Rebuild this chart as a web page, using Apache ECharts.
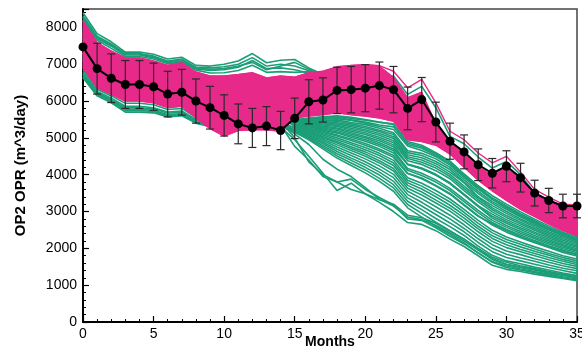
<!DOCTYPE html>
<html>
<head>
<meta charset="utf-8">
<script src="https://cdn.jsdelivr.net/npm/echarts@6/dist/echarts.min.js"></script>
<style>
  html, body { margin: 0; padding: 0; background: #ffffff; }
  #chart { width: 582px; height: 348px; }
</style>
</head>
<body>
<div id="chart"></div>
<script>
// Time axis (months)
const months = [0,1,2,3,4,5,6,7,8,9,10,11,12,13,14,15,16,17,18,19,20,21,22,23,24,25,26,27,28,29,30,31,32,33,34,35];

// Observed oil production rate with measurement error
const observed = [7470,6880,6620,6450,6450,6390,6190,6240,6000,5820,5610,5380,5270,5320,5200,5530,5980,6030,6290,6310,6350,6420,6310,5800,6040,5430,4910,4620,4270,4040,4230,3920,3500,3300,3150,3150];
const observedError = [null,690,660,650,650,640,620,620,600,580,560,540,530,530,520,550,600,600,630,630,640,640,630,580,600,540,490,460,430,400,420,390,350,330,320,320];

// Posterior (history-matched) ensemble: outermost member and the dense envelope
const postTop     = [8180,7590,7360,7170,7170,7090,6970,7040,6790,6680,6680,6720,6770,6630,6680,6650,6770,6810,6930,6970,6990,6960,6810,6360,6590,5950,5180,4950,4590,4320,4500,4070,3600,3390,3200,3180];
const postBandTop = [8180,7590,7360,7170,7170,7090,6970,7040,6790,6680,6680,6720,6770,6630,6680,6650,6770,6810,6930,6970,6990,6960,6650,6100,6250,5400,4880,4580,4230,4000,4180,3880,3470,3270,3120,3120];
const postBandLow = [6900,6360,6180,6000,6000,5950,5820,5860,5540,5250,5050,5200,5220,5220,5180,5540,5590,5630,5680,5630,5590,5540,5450,4950,4900,4800,4560,4200,3850,3560,3300,3060,2860,2660,2480,2340];

// Prior ensemble members
const prior01 = [8400,7830,7610,7330,7330,7270,7140,7190,6970,6950,7000,7090,7290,7040,7110,7130,6900,6720,6750,6780,6800,6720,6680,6180,6400,5820,5040,4840,4480,4180,4360,4000,3500,3320,3140,3110];
const prior02 = [8320,7760,7550,7290,7290,7220,7090,7140,6920,6900,6930,7000,7180,6950,7000,6950,6820,6700,6500,6450,6400,6350,6250,5750,5900,5200,4700,4400,4050,3800,3950,3650,3250,3070,2930,2900];
const prior03 = [8250,7700,7490,7250,7250,7180,7040,7090,6870,6830,6850,6920,7100,6880,6900,6850,6760,6690,6300,6250,6200,6150,6050,5550,5700,5000,4650,4350,4000,3700,3800,3500,3150,2950,2800,2750];
const prior04 = [8200,7650,7430,7210,7210,7140,7010,7060,6840,6760,6770,6830,6970,6780,6800,6780,6800,6760,6100,6050,6000,5950,5850,5350,5450,4900,4600,4300,3950,3650,3700,3400,3050,2850,2700,2650];
const prior05 = [8280,7720,7520,7280,7280,7200,7060,7120,6900,6860,6880,6950,7050,6850,6950,7050,6860,6700,6400,6350,6300,6250,6150,5650,5800,5100,4680,4380,4020,3750,3880,3580,3200,3000,2870,2830];
const prior06 = [7840,7280,7070,6890,6890,6820,6700,6750,6470,6270,6170,6260,6300,6230,6230,5480,5530,5560,5580,5530,5480,5420,5380,4900,4800,4600,4370,4020,3700,3430,3200,2990,2790,2610,2440,2310];
const prior07 = [7160,6600,6390,6210,6210,6140,6020,6070,5790,5590,5490,5580,5620,5550,5550,5470,5510,5530,5550,5490,5430,5350,5300,4820,4720,4530,4300,3960,3650,3370,3150,2940,2750,2570,2410,2270];
const prior08 = [7390,6830,6620,6440,6440,6370,6250,6300,6020,5820,5720,5810,5850,5780,5780,5470,5500,5510,5520,5470,5400,5310,5230,4780,4660,4490,4260,3920,3610,3330,3110,2900,2720,2540,2380,2250];
const prior09 = [7940,7380,7170,6990,6990,6920,6800,6850,6570,6370,6270,6360,6400,6330,6330,5450,5480,5480,5490,5420,5360,5260,5140,4650,4580,4430,4200,3860,3550,3270,3060,2850,2670,2500,2340,2210];
const prior10 = [7690,7130,6920,6740,6740,6670,6550,6600,6320,6120,6020,6110,6150,6080,6080,5440,5460,5460,5450,5380,5310,5210,5090,4600,4520,4360,4140,3800,3490,3220,3000,2800,2630,2450,2300,2170];
const prior11 = [7240,6680,6470,6290,6290,6220,6100,6150,5870,5670,5570,5660,5700,5630,5630,5420,5430,5400,5380,5300,5220,5120,4980,4490,4400,4240,4010,3690,3380,3100,2890,2710,2530,2370,2220,2100];
const prior12 = [7440,6880,6670,6490,6490,6420,6300,6350,6070,5870,5770,5860,5900,5830,5830,5410,5410,5380,5340,5260,5180,5070,4920,4440,4340,4180,3950,3630,3320,3050,2840,2660,2490,2330,2180,2060];
const prior13 = [7990,7430,7220,7040,7040,6970,6850,6900,6620,6420,6320,6410,6450,6380,6380,5400,5390,5350,5310,5220,5130,5020,4870,4380,4280,4110,3890,3570,3260,2990,2780,2610,2440,2290,2140,2030];
const prior14 = [7540,6980,6770,6590,6590,6520,6400,6450,6170,5970,5870,5960,6000,5930,5930,5380,5350,5290,5240,5140,5040,4920,4760,4280,4160,3990,3760,3450,3140,2870,2680,2510,2350,2200,2070,1950];
const prior15 = [7090,6530,6320,6140,6140,6070,5950,6000,5720,5520,5420,5510,5550,5480,5480,5360,5320,5240,5160,5060,4950,4820,4650,4170,4040,3860,3630,3330,3030,2760,2570,2410,2260,2120,1990,1880];
const prior16 = [7740,7180,6970,6790,6790,6720,6600,6650,6370,6170,6070,6160,6200,6130,6130,5340,5270,5180,5080,4970,4850,4700,4520,4040,3910,3710,3490,3190,2890,2630,2440,2290,2150,2020,1890,1790];
const prior17 = [7290,6730,6520,6340,6340,6270,6150,6200,5920,5720,5620,5710,5750,5680,5680,5310,5230,5110,5000,4870,4740,4580,4390,3920,3770,3570,3340,3060,2760,2490,2310,2170,2040,1920,1800,1710];
const prior18 = [7590,7030,6820,6640,6640,6570,6450,6500,6220,6020,5920,6010,6050,5980,5980,5280,5180,5040,4900,4760,4620,4450,4250,3780,3610,3400,3170,2900,2600,2340,2170,2040,1920,1810,1700,1610];
const prior19 = [6850,6320,6140,5940,5940,5900,5770,5800,5560,5450,5400,5450,5500,5480,5450,5260,5130,4970,4810,4660,4500,4320,4100,3630,3450,3230,3010,2740,2450,2190,2020,1910,1800,1690,1590,1510];
const prior20 = [6780,6260,6080,5860,5860,5820,5700,5730,5500,5400,5350,5400,5450,5430,5400,5220,5070,4880,4690,4520,4350,4150,3920,3460,3250,3020,2800,2540,2260,2000,1840,1740,1650,1550,1460,1390];
const prior21 = [6700,6200,6010,5780,5780,5750,5630,5660,5440,5350,5300,5350,5400,5380,5350,5190,5010,4790,4570,4390,4200,3990,3730,3280,3050,2810,2590,2350,2060,1810,1660,1580,1490,1410,1330,1260];
const prior22 = [6630,6140,5950,5700,5700,5680,5570,5600,5400,5300,5250,5300,5350,5330,5300,5150,4950,4700,4450,4250,4050,3820,3550,3100,2850,2600,2380,2150,1870,1620,1480,1410,1340,1270,1200,1140];
const prior23 = [7300,6750,6520,6300,6300,6250,6100,6150,5880,5700,5600,5650,5700,5600,5300,4950,4500,4040,3570,3770,3480,3250,3000,2700,2650,2480,2250,2050,1800,1540,1430,1370,1300,1240,1180,1120];
const prior24 = [7600,7050,6800,6600,6600,6520,6380,6420,6150,6000,5900,5950,6000,5900,5350,4770,4400,3950,3800,3880,3600,3380,3180,2800,2760,2560,2330,2120,1880,1640,1520,1440,1370,1300,1230,1170];
const prior25 = [7400,6850,6620,6420,6420,6360,6230,6280,6000,5850,5750,5800,5850,5780,5400,5100,4820,4420,4150,3950,3650,3330,3150,2850,2780,2620,2420,2200,1950,1700,1560,1480,1410,1340,1270,1210];
const prior26 = [7700,7150,6900,6700,6700,6630,6480,6530,6250,6100,6000,6050,6100,6000,5450,5000,4350,4000,3800,3600,3480,3320,3200,2900,2830,2680,2460,2250,2000,1760,1620,1530,1450,1370,1300,1230];
const prior27 = [7640,7080,6870,6690,6690,6620,6500,6550,6270,6070,5970,6060,6100,6030,6030,5490,5540,5570,5600,5560,5500,5430,5360,4860,4760,4570,4350,4000,3680,3330,3110,2890,2700,2510,2350,2220];
const prior28 = [7320,6760,6550,6370,6370,6300,6180,6230,5950,5750,5650,5740,5780,5710,5710,5430,5440,5430,5410,5340,5270,5170,5030,4540,4460,4300,4070,3780,3400,3160,2950,2760,2580,2410,2260,2140];
const prior29 = [7220,6660,6450,6270,6270,6200,6080,6130,5850,5650,5550,5640,5680,5610,5610,5390,5370,5320,5270,5180,5090,4970,4810,4280,4160,3990,3760,3450,3140,2820,2620,2460,2300,2160,2030,1920];
const prior30 = [7920,7360,7150,6970,6970,6900,6780,6830,6550,6350,6250,6340,6380,6310,6310,5370,5330,5270,5200,5100,5000,4870,4700,4290,4180,4010,3780,3470,3160,2930,2730,2560,2400,2240,2100,1990];
const prior31 = [7860,7300,7090,6910,6910,6840,6720,6770,6490,6290,6190,6280,6320,6250,6250,5350,5300,5210,5130,5020,4910,4770,4590,4120,3980,3800,3570,3270,2970,2700,2510,2360,2210,2070,1950,1840];
const prior32 = [7140,6580,6370,6190,6190,6120,6000,6050,5770,5570,5470,5560,5600,5530,5530,5330,5260,5150,5050,4930,4800,4650,4470,4030,3890,3690,3470,3170,2870,2670,2480,2320,2180,2050,1920,1820];
const prior33 = [7790,7230,7020,6840,6840,6770,6650,6700,6420,6220,6120,6210,6250,6180,6180,5300,5210,5080,4950,4820,4680,4520,4320,3850,3690,3480,3260,2980,2680,2420,2240,2110,1980,1860,1750,1660];
const prior34 = [7420,6860,6650,6470,6470,6400,6280,6330,6050,5850,5750,5840,5880,5810,5810,5270,5160,5010,4860,4710,4560,4380,4170,3710,3530,3310,3090,2820,2530,2270,2100,1970,1860,1750,1650,1560];
const prior35 = [7570,7010,6800,6620,6620,6550,6430,6480,6200,6000,5900,5990,6030,5960,5960,5240,5100,4930,4750,4590,4430,4240,4010,3550,3350,3130,2900,2640,2350,2100,1930,1830,1720,1620,1530,1450];
const prior36 = [6740,6230,6040,5820,5820,5790,5670,5700,5470,5380,5320,5380,5420,5400,5380,5200,5040,4840,4630,4450,4280,4070,3820,3370,3150,2920,2690,2450,2160,1910,1750,1660,1570,1480,1400,1320];
const prior37 = [6660,6170,5980,5740,5740,5720,5600,5630,5420,5320,5270,5320,5370,5350,5320,5170,4980,4750,4510,4320,4130,3900,3640,3190,2950,2710,2480,2250,1970,1720,1570,1490,1420,1340,1270,1200];

const priorRuns = [prior01,prior02,prior03,prior04,prior05,prior06,prior07,prior08,prior09,prior10,
                   prior11,prior12,prior13,prior14,prior15,prior16,prior17,prior18,prior19,prior20,
                   prior21,prior22,prior23,prior24,prior25,prior26,prior27,prior28,prior29,prior30,
                   prior31,prior32,prior33,prior34,prior35,prior36,prior37];

// Axis tick values
const xTicks = [0,5,10,15,20,25,30,35];
const yTicks = [0,1000,2000,3000,4000,5000,6000,7000,8000];

const GREEN = '#1b9e77';
const MAGENTA = '#e7298a';
const FONT = '"Liberation Sans", Arial, Helvetica, sans-serif';

const toPairs = vals => vals.map((v, i) => [months[i], v]);

const series = [];

// Prior ensemble lines
priorRuns.forEach((run, k) => {
  series.push({
    name: 'prior' + k,
    type: 'line',
    data: toPairs(run),
    symbol: 'none',
    showSymbol: false,
    lineStyle: { color: GREEN, width: 1.6 },
    z: 1,
    silent: true,
    animation: false
  });
});

// Posterior ensemble: filled envelope
series.push({
  type: 'custom',
  data: [[0, 0]],
  z: 2,
  silent: true,
  animation: false,
  renderItem: (params, api) => {
    const pts = [];
    for (let i = 0; i < months.length; i++) pts.push(api.coord([months[i], postBandTop[i]]));
    for (let i = months.length - 1; i >= 0; i--) pts.push(api.coord([months[i], postBandLow[i]]));
    return { type: 'polygon', shape: { points: pts }, style: { fill: MAGENTA, stroke: MAGENTA, lineWidth: 1 } };
  }
});

// Posterior ensemble: outer members
[postTop, postBandLow].forEach(run => {
  series.push({
    type: 'line',
    data: toPairs(run),
    symbol: 'none',
    showSymbol: false,
    lineStyle: { color: MAGENTA, width: 1.4 },
    z: 3,
    silent: true,
    animation: false
  });
});

// Error bars on observed data
const errData = [];
observed.forEach((v, i) => {
  if (observedError[i] != null) errData.push([months[i], v - observedError[i], v + observedError[i]]);
});
series.push({
  type: 'custom',
  data: errData,
  encode: { x: 0, y: [1, 2] },
  z: 8,
  silent: true,
  animation: false,
  renderItem: (params, api) => {
    const x = api.value(0);
    const lo = api.coord([x, api.value(1)]);
    const hi = api.coord([x, api.value(2)]);
    const cap = 4;
    const style = { stroke: '#2a2a2a', lineWidth: 1.2 };
    return {
      type: 'group',
      children: [
        { type: 'line', shape: { x1: lo[0], y1: lo[1], x2: hi[0], y2: hi[1] }, style },
        { type: 'line', shape: { x1: hi[0] - cap, y1: hi[1], x2: hi[0] + cap, y2: hi[1] }, style },
        { type: 'line', shape: { x1: lo[0] - cap, y1: lo[1], x2: lo[0] + cap, y2: lo[1] }, style }
      ]
    };
  }
});

// Observed line
series.push({
  type: 'line',
  data: toPairs(observed),
  symbol: 'circle',
  symbolSize: 9,
  showSymbol: true,
  lineStyle: { color: '#000', width: 2 },
  itemStyle: { color: '#000' },
  z: 10,
  silent: true,
  animation: false
});

const option = {
  animation: false,
  backgroundColor: '#ffffff',
  grid: {
    left: 83, right: 5, top: 9, bottom: 26,
    containLabel: false,
    outerBoundsMode: 'none',
    show: true,
    borderColor: '#444',
    borderWidth: 1.5,
    backgroundColor: 'transparent'
  },
  xAxis: {
    type: 'value',
    min: xTicks[0],
    max: xTicks[xTicks.length - 1],
    interval: xTicks[1] - xTicks[0],
    axisLine: { show: true, onZero: false, lineStyle: { color: '#000', width: 2 } },
    axisTick: { show: true, inside: true, length: 6, lineStyle: { color: '#000', width: 1.2 } },
    minorTick: { show: true, splitNumber: 5, length: 3, lineStyle: { color: '#000', width: 1 } },
    splitLine: { show: false },
    axisLabel: { color: '#000', fontSize: 14, fontFamily: FONT, margin: 5 },
    name: 'Months',
    nameLocation: 'middle',
    nameGap: 13,
    nameMoveOverlap: false,
    nameTextStyle: { color: '#000', fontSize: 14, fontWeight: 'bold', fontFamily: FONT }
  },
  yAxis: {
    type: 'value',
    min: 0,
    max: 8500,
    interval: yTicks[1] - yTicks[0],
    axisLine: { show: true, onZero: false, lineStyle: { color: '#000', width: 2 } },
    axisTick: { show: true, inside: true, length: 6, lineStyle: { color: '#000', width: 1.2 } },
    minorTick: { show: true, splitNumber: 5, length: 3, lineStyle: { color: '#000', width: 1 } },
    splitLine: { show: false },
    axisLabel: {
      color: '#000', fontSize: 14, fontFamily: FONT, margin: 6, showMaxLabel: false,
      formatter: v => (yTicks.indexOf(v) >= 0 ? String(v) : '')
    },
    name: 'OP2 OPR (m^3/day)',
    nameLocation: 'middle',
    nameGap: 55,
    nameMoveOverlap: false,
    nameTextStyle: { color: '#000', fontSize: 15, fontWeight: 'bold', fontFamily: FONT }
  },
  series: series
};

const chart = echarts.init(document.getElementById('chart'), null, { renderer: 'canvas' });
chart.setOption(option);
</script>
</body>
</html>
